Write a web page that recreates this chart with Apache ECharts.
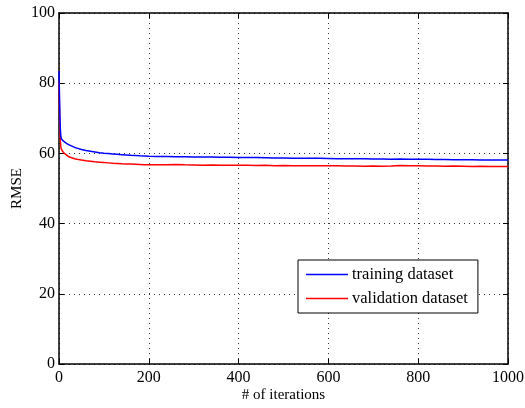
<!DOCTYPE html>
<html><head><meta charset="utf-8">
<script src="https://cdn.jsdelivr.net/npm/echarts@6/dist/echarts.min.js"></script>
<style>html,body{margin:0;padding:0;background:#fff}#c{width:525px;height:408px}</style>
</head><body><div id="c"></div>
<script>
const iterations = [0,1,2,3,4,5,6,8,10,12,15,20,25,30,35,40,
 50,60,70,80,90,100,110,120,130,140,150,160,170,180,190,200,
 220,240,260,280,300,320,340,360,380,400,420,440,460,480,500,520,540,560,580,600,
 620,640,660,680,700,720,740,760,780,800,820,840,860,880,900,920,940,960,980,1000];
const trainingRMSE = [83.5,77,71,67,65,64.3,64,63.7,63.4,63.2,63.0,62.6,62.3,62.0,61.7,61.5,
 61.1,60.8,60.6,60.4,60.2,60.05,59.95,59.85,59.75,59.65,59.55,59.45,59.4,59.3,59.25,59.2,
 59.15,59.1,59.05,59.05,59.0,58.95,58.95,58.9,58.9,58.85,58.8,58.8,58.75,58.7,58.7,58.65,58.65,58.6,58.6,58.55,
 58.5,58.5,58.45,58.45,58.4,58.4,58.35,58.4,58.35,58.3,58.3,58.25,58.25,58.2,58.2,58.2,58.15,58.15,58.15,58.15];
const validationRMSE = [80.5,73,67,63.5,62,61.3,61,60.6,60.3,60.0,59.6,59.2,58.9,58.7,58.5,58.35,
 58.1,57.9,57.75,57.6,57.5,57.4,57.3,57.2,57.15,57.05,57.0,56.95,56.9,56.85,56.8,56.8,
 56.75,56.8,56.85,56.75,56.7,56.65,56.7,56.6,56.6,56.65,56.6,56.55,56.6,56.5,56.55,56.5,56.45,56.5,56.45,56.45,
 56.45,56.4,56.4,56.35,56.4,56.35,56.4,56.55,56.5,56.45,56.4,56.4,56.35,56.4,56.35,56.3,56.35,56.3,56.3,56.3];
const seriesNames = ['training dataset','validation dataset'];
const xTicks = [0,200,400,600,800,1000];
const yTicks = [0,20,40,60,80,100];

const font = 'Liberation Serif';
const pair = (ys) => iterations.map((x,i)=>[x, ys[i]]);
const chart = echarts.init(document.getElementById('c'), null, {renderer:'canvas'});
const axisCommon = {
  axisLine:{show:true, onZero:false, lineStyle:{color:'#000', width:1.5}},
  axisTick:{show:true, inside:true, length:5, lineStyle:{color:'#000', width:1}},
  splitLine:{show:false}
};
chart.setOption({
  animation:false,
  backgroundColor:'#fff',
  textStyle:{fontFamily:font},
  grid:{left:59, right:17, top:13, bottom:44, show:false, containLabel:false, outerBoundsMode:'none'},
  legend:{
    orient:'vertical', left:298, top:260,
    data:seriesNames,
    icon:'rect', itemWidth:42, itemHeight:1.5, itemGap:7,
    borderColor:'#000', borderWidth:1, borderRadius:0,
    padding:[6,10,6,8], backgroundColor:'#fff',
    textStyle:{fontFamily:font, fontSize:16.5, color:'#000', padding:[0,0,0,-1]}
  },
  xAxis:[{
    type:'value', min:xTicks[0], max:xTicks[xTicks.length-1], interval:200,
    name:'# of iterations', nameLocation:'middle', nameGap:24, nameMoveOverlap:false,
    nameTextStyle:{fontFamily:font, fontSize:15, color:'#000'},
    axisLabel:{fontFamily:font, fontSize:16, color:'#000', margin:6, formatter:(v)=>String(v)},
    ...axisCommon,
    splitLine:{show:true, lineStyle:{color:'#333', type:[1,4], width:1}}
  },{
    type:'value', position:'top', min:0, max:1000, interval:200,
    axisLabel:{show:false}, ...axisCommon
  }],
  yAxis:[{
    type:'value', min:yTicks[0], max:yTicks[yTicks.length-1], interval:20,
    name:'RMSE', nameLocation:'middle', nameGap:34, nameMoveOverlap:false,
    nameTextStyle:{fontFamily:font, fontSize:15, color:'#000'},
    axisLabel:{fontFamily:font, fontSize:16, color:'#000', margin:4},
    ...axisCommon,
    splitLine:{show:true, lineStyle:{color:'#333', type:[1,4], width:1}}
  },{
    type:'value', position:'right', min:0, max:100, interval:20,
    axisLabel:{show:false}, ...axisCommon
  }],
  series:[
    {name:seriesNames[0], type:'line', data:pair(trainingRMSE), showSymbol:false, symbol:'none',
     lineStyle:{color:'#0000ff', width:1.5}, itemStyle:{color:'#0000ff'}, z:3},
    {name:seriesNames[1], type:'line', data:pair(validationRMSE), showSymbol:false, symbol:'none',
     lineStyle:{color:'#ff0000', width:1.5}, itemStyle:{color:'#ff0000'}, z:2}
  ]
});
</script></body></html>
